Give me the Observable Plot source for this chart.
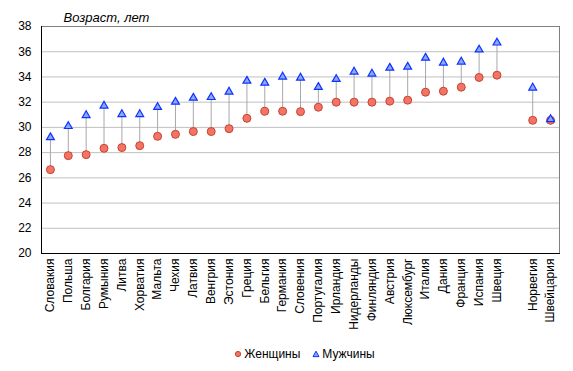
<!DOCTYPE html>
<html>
<head>
<meta charset="utf-8">
<script src="https://cdn.jsdelivr.net/npm/d3@7"></script>
<script src="https://cdn.jsdelivr.net/npm/@observablehq/plot@0.6"></script>
<style>
  body { margin: 0; background: #fff; font-family: "Liberation Sans", Arial, sans-serif; }
  #chart { width: 573px; }
  .legend { display: flex; justify-content: center; align-items: center; font-size: 12px; color: #000; padding-left: 36px; margin-top: 6px; height: 16px; }
  .legend .item { display: flex; align-items: center; gap: 2px; margin: 0 6px; }
</style>
</head>
<body>
<div id="chart"></div>
<script>
const countries = ["Словакия","Польша","Болгария","Румыния","Литва","Хорватия","Мальта","Чехия","Латвия","Венгрия","Эстония","Греция","Бельгия","Германия","Словения","Португалия","Ирландия","Нидерланды","Финляндия","Австрия","Люксембург","Италия","Дания","Франция","Испания","Швеция","","Норвегия","Швейцария"];
const women = [26.65,27.76,27.84,28.34,28.40,28.55,29.29,29.45,29.67,29.67,29.90,30.72,31.28,31.28,31.25,31.60,32.0,32.0,32.0,32.08,32.16,32.79,32.87,33.19,33.96,34.14,null,30.56,30.56];
const men   = [29.21,30.09,30.96,31.71,31.04,31.04,31.60,32.02,32.34,32.39,32.82,33.69,33.53,34.01,33.93,33.19,33.82,34.41,34.25,34.72,34.80,35.51,35.12,35.20,36.16,36.71,null,33.14,30.64];
const yTicks = [20,22,24,26,28,30,32,34,36,38];
const title = "Возраст, лет";
const legendLabels = ["Женщины","Мужчины"];

const data = countries.map((c, i) => ({country: c, women: women[i], men: men[i]})).filter(d => d.country !== "");

const chart = Plot.plot({
  width: 573,
  height: 340,
  marginLeft: 41,
  marginRight: 14,
  marginTop: 26,
  marginBottom: 87,
  style: {fontFamily: "'Liberation Sans', Arial, sans-serif", fontSize: "12px", color: "#000", background: "#fff"},
  x: {type: "band", domain: countries, padding: 0, round: false},
  y: {domain: [20, 38]},
  marks: [
    Plot.gridY(yTicks, {stroke: "#c0c0c0", strokeOpacity: 1}),
    Plot.frame({stroke: "#808080"}),
    Plot.frame({anchor: "left", stroke: "#000"}),
    Plot.frame({anchor: "bottom", stroke: "#000"}),
    Plot.axisY(yTicks, {tickSize: 0, tickPadding: 10, label: null, fontSize: 12}),
    Plot.axisX({tickSize: 0, tickPadding: 5, tickRotate: -90, label: null, fontSize: 12, tickFormat: d => d}),
    Plot.ruleX(data, {x: "country", y1: "women", y2: "men", stroke: "#a8a8a8"}),
    Plot.dot(data, {x: "country", y: "women", symbol: "circle", r: 4, fill: "#f27468", stroke: "#c8442c", strokeWidth: 1}),
    Plot.dot(data, {x: "country", y: "men", symbol: "triangle", r: 2.9, fill: "#88aaff", stroke: "#1030ff", strokeWidth: 1.2}),
    Plot.text([title], {frameAnchor: "top-left", text: d => d, textAnchor: "start", lineAnchor: "bottom", dx: 22, dy: -5, fontStyle: "italic", fontSize: 13})
  ]
});
document.getElementById("chart").appendChild(chart);

const legend = document.createElement("div");
legend.className = "legend";
legend.innerHTML = `
  <span class="item"><svg width="8" height="8"><circle cx="4" cy="4" r="2.6" fill="#f27468" stroke="#c8442c"/></svg>${legendLabels[0]}</span>
  <span class="item"><svg width="8" height="8"><path d="M4 1.2 L7 6.6 L1 6.6 Z" fill="#88aaff" stroke="#1030ff"/></svg>${legendLabels[1]}</span>`;
document.getElementById("chart").appendChild(legend);
</script>
</body>
</html>
